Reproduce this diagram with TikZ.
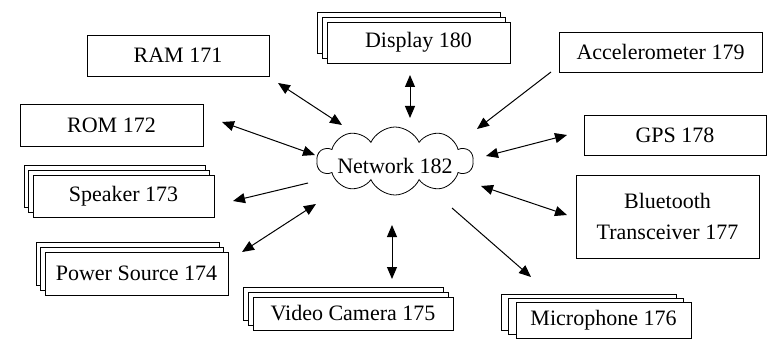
\documentclass[tikz,border=0pt]{standalone}
\usepackage{fontspec}
\setmainfont{Liberation Serif}
\usetikzlibrary{shapes.symbols,shadows,arrows.meta}
\begin{document}
\begin{tikzpicture}[x=1pt,y=-1pt,
  lbl/.style={font=\fontsize{22}{31}\selectfont},
  box/.style={lbl, draw=black, line width=0.8pt, fill=white, inner sep=0pt, align=center},
  stack/.style 2 args={box, double copy shadow={shadow xshift=-#1, shadow yshift=#2, draw=black, fill=white, line width=0.8pt}},
  tip/.tip={Triangle[length=12pt,width=10pt]},
  arr/.style={line width=1pt, -tip},
  biarr/.style={line width=1pt, tip-tip}
]
\useasboundingbox (0,0) rectangle (768,339);

% nodes
\node[box, minimum width=182pt, minimum height=41pt] (ram) at (178,55.5) {RAM 171};
\node[box, minimum width=183pt, minimum height=42pt] (rom) at (111.5,125) {ROM 172};
\node[stack={4.5pt}{5pt}, minimum width=181pt, minimum height=42pt] (spk) at (123.5,196) {Speaker 173};
\node[stack={4.5pt}{5pt}, minimum width=183pt, minimum height=43pt] (pwr) at (136.5,273.5) {Power Source 174};
\node[stack={5pt}{5pt}, minimum width=200pt, minimum height=33pt] (cam) at (353,313.5) {Video Camera 175};
\node[stack={7.5pt}{4pt}, minimum width=175pt, minimum height=36pt] (mic) at (603.5,320) {Microphone 176};
\node[box, minimum width=183pt, minimum height=83pt] (bt) at (667.5,216.5) {Bluetooth\\Transceiver 177};
\node[box, minimum width=182pt, minimum height=40pt] (gps) at (675,135) {GPS 178};
\node[box, minimum width=203pt, minimum height=40pt] (acc) at (660.5,52) {Accelerometer 179};
\node[stack={5pt}{5pt}, minimum width=183pt, minimum height=41pt] (disp) at (418.5,42.5) {Display 180};

\node[draw=black, line width=0.8pt, cloud, cloud puffs=10, cloud puff arc=130, cloud ignores aspect,
      minimum width=156pt, minimum height=68pt, inner sep=0pt] (net) at (395,161) {};
\node[lbl] (nettext) at (395,166) {Network 182};

% connector end points
\coordinate (ramA) at (278,83);  \coordinate (ramB) at (342,125);
\coordinate (romA) at (222,122); \coordinate (romB) at (315,155);
\coordinate (spkA) at (233,201); \coordinate (spkB) at (308,183);
\coordinate (pwrA) at (242,252); \coordinate (pwrB) at (316,204);
\coordinate (camA) at (392,279); \coordinate (camB) at (392,225);
\coordinate (micA) at (531,277); \coordinate (micB) at (452,208);
\coordinate (btA)  at (567,215); \coordinate (btB)  at (481,186);
\coordinate (gpsA) at (567,135); \coordinate (gpsB) at (486,156);
\coordinate (accA) at (551,72);  \coordinate (accB) at (477,129);
\coordinate (dispA) at (410,75); \coordinate (dispB) at (410,118);

% connectors
\draw[biarr] (ramA) -- (ramB);
\draw[biarr] (romA) -- (romB);
\draw[arr] (spkB) -- (spkA);
\draw[biarr] (pwrA) -- (pwrB);
\draw[biarr] (camA) -- (camB);
\draw[arr] (micB) -- (micA);
\draw[biarr] (btA) -- (btB);
\draw[biarr] (gpsA) -- (gpsB);
\draw[arr] (accA) -- (accB);
\draw[biarr] (dispA) -- (dispB);
\end{tikzpicture}
\end{document}
